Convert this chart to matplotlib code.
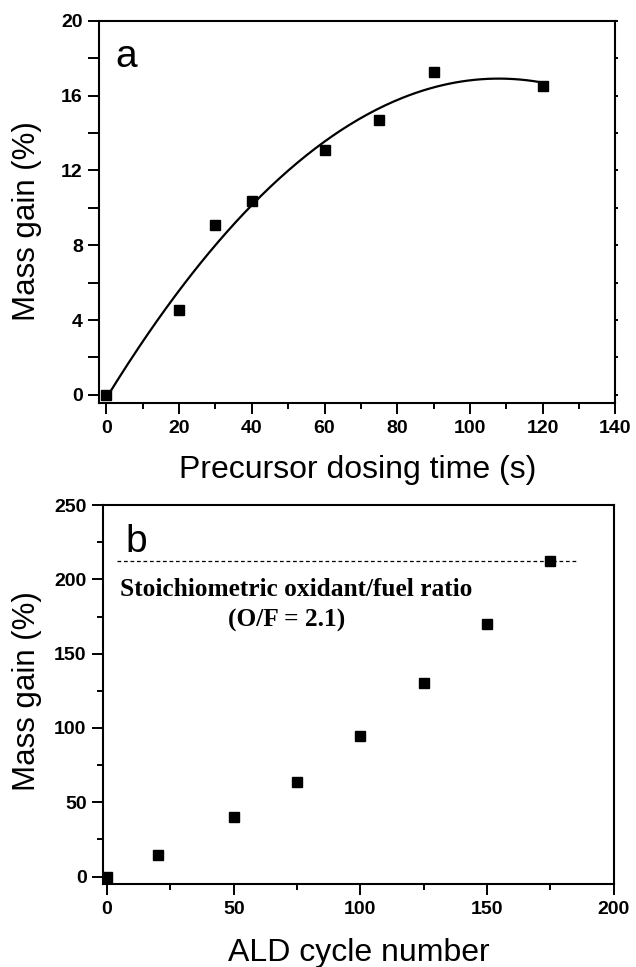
import numpy as np
import matplotlib
matplotlib.use("Agg")
import matplotlib.pyplot as plt
from matplotlib.ticker import MultipleLocator

# panel a: mass gain vs precursor dosing time
dose_time = [0, 20, 30, 40, 60, 75, 90, 120]
dose_gain = [0.0, 4.54, 9.07, 10.39, 13.08, 14.68, 17.25, 16.53]

# panel b: mass gain vs ALD cycles
cycles = [0, 20, 50, 75, 100, 125, 150, 175]
cycle_gain = [0.0, 14.6, 40.0, 63.5, 94.8, 130.3, 170.2, 212.3]
stoich_level = 212.5
stoich_span = [4, 186]

plt.rcParams["font.family"] = "Liberation Sans"

fig = plt.figure(figsize=(6.36, 9.67), dpi=100)
ax1 = fig.add_axes([0.1564, 0.5829, 0.8111, 0.3957])
ax2 = fig.add_axes([0.1624, 0.0858, 0.8025, 0.3919])


def style(ax):
    for s in ax.spines.values():
        s.set_linewidth(1.5)
    ax.tick_params(which="major", direction="out", length=8, width=1.4, pad=4,
                   labelsize=14)
    ax.tick_params(which="minor", direction="out", length=4, width=1.4)
    for lab in ax.get_xticklabels() + ax.get_yticklabels():
        lab.set_fontweight("bold")


# --- a ---
coef = np.polyfit(dose_time, dose_gain, 2)
xx = np.linspace(0, 120, 200)
ax1.plot(xx, np.polyval(coef, xx), color="black", lw=1.6)
ax1.plot(dose_time, dose_gain, "s", color="black", ms=7.8)
ax1.set_xlim(-1.9, 140)
ax1.set_ylim(-0.45, 20)
ax1.xaxis.set_major_locator(MultipleLocator(20))
ax1.xaxis.set_minor_locator(MultipleLocator(10))
ax1.yaxis.set_major_locator(MultipleLocator(4))
ax1.yaxis.set_minor_locator(MultipleLocator(2))
style(ax1)
ax1.tick_params(which="both", right=True)
ax1.tick_params(which="both", axis="y", direction="out", length=8)
ax1.set_xlabel("Precursor dosing time (s)", fontsize=23)
ax1.set_ylabel("Mass gain (%)", fontsize=22.5)
ax1.xaxis.set_label_coords(0.5, -0.135)
ax1.yaxis.set_label_coords(-0.112, 0.476)
ax1.text(2.6, 17.5, "a", fontsize=28)

# --- b ---
ax2.plot(cycles, cycle_gain, "s", color="black", ms=7.8)
ax2.plot(stoich_span, [stoich_level, stoich_level], ls=(0, (3, 2.2)),
         color="black", lw=0.9)
ax2.set_xlim(-1.5, 200)
ax2.set_ylim(-5, 250)
ax2.xaxis.set_major_locator(MultipleLocator(50))
ax2.xaxis.set_minor_locator(MultipleLocator(25))
ax2.yaxis.set_major_locator(MultipleLocator(50))
ax2.yaxis.set_minor_locator(MultipleLocator(25))
style(ax2)
ax2.set_xlabel("ALD cycle number", fontsize=23)
ax2.set_ylabel("Mass gain (%)", fontsize=22.5)
ax2.xaxis.set_label_coords(0.5, -0.142)
ax2.yaxis.set_label_coords(-0.12, 0.509)
ax2.text(7.3, 218.6, "b", fontsize=28)
ax2.text(5.1, 188.8, "Stoichiometric oxidant/fuel ratio", family="Liberation Serif",
         fontweight="bold", fontsize=18.3, va="baseline")
ax2.text(71, 168, "(O/F = 2.1)", family="Liberation Serif", fontweight="bold",
         fontsize=18.3, ha="center", va="baseline")

# small ticks on right spine of panel a
for t in ax1.yaxis.get_ticklines(minor=False)[1::2]:
    t.set_markersize(2)
for t in ax1.yaxis.get_ticklines(minor=True)[1::2]:
    t.set_markersize(2)

fig.savefig("out.png", dpi=100)
